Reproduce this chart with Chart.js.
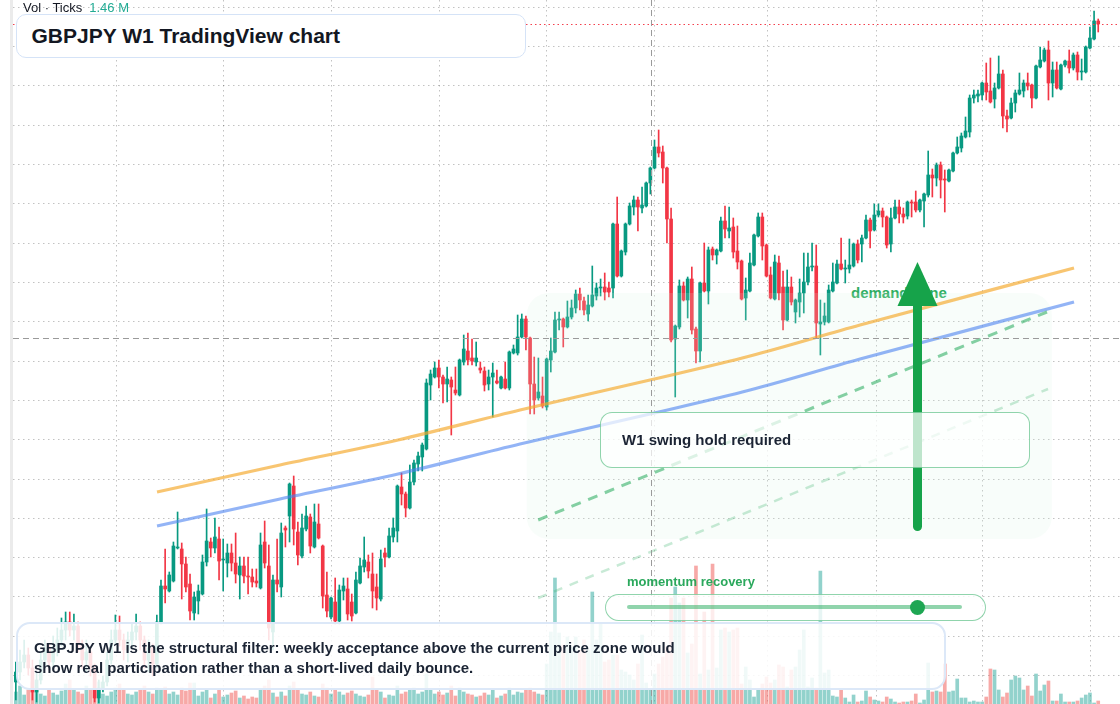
<!DOCTYPE html>
<html>
<head>
<meta charset="utf-8">
<script src="https://cdn.jsdelivr.net/npm/chart.js@4.4.1/dist/chart.umd.min.js"></script>
<style>
html,body{margin:0;padding:0;background:#fff;}
#wrap{position:relative;width:1120px;height:704px;overflow:hidden;font-family:"Liberation Sans",Arial,sans-serif;background:#fff;}
#c{position:absolute;left:0;top:0;z-index:1;display:block;}
.leftbar{position:absolute;left:10px;top:0;width:3px;height:704px;background:#ebebeb;z-index:2;}
.vol{position:absolute;left:23px;top:0;font-size:13px;line-height:16px;color:#131722;z-index:2;white-space:nowrap;}
.vol span{color:#22ab94;margin-left:7px;}
.title{position:absolute;left:16px;top:14px;width:510px;height:44px;box-sizing:border-box;border:1.5px solid #d5e3f7;border-radius:10px;background:#fff;z-index:2;font-weight:bold;font-size:21px;line-height:41px;color:#131722;padding-left:14.5px;white-space:nowrap;}
.note{position:absolute;left:16px;top:622px;width:930px;height:68px;box-sizing:border-box;border:2px solid #dce8f8;border-radius:14px;background:rgba(255,255,255,0.86);z-index:2;font-weight:bold;font-size:15px;line-height:20px;color:#1b2434;padding:14px 0 0 16px;white-space:nowrap;}
.hold{position:absolute;left:600px;top:412px;width:430px;height:56px;box-sizing:border-box;border:1px solid rgba(34,170,90,0.5);border-radius:12px;background:rgba(255,255,255,0.72);z-index:2;font-weight:bold;font-size:15px;line-height:54px;color:#1b2434;padding-left:21px;white-space:nowrap;}
.mlabel{position:absolute;left:627px;top:574px;font-weight:bold;font-size:13px;line-height:16px;color:#2aa85c;z-index:2;white-space:nowrap;}
.slider{position:absolute;left:605px;top:594px;width:381px;height:27px;box-sizing:border-box;border:1.5px solid rgba(34,170,90,0.5);border-radius:14px;background:rgba(255,255,255,0.78);z-index:2;}
.track{position:absolute;left:20.5px;top:10px;width:335px;height:4px;border-radius:2px;background:rgba(34,170,90,0.5);}
.knob{position:absolute;left:304px;top:4.5px;width:15px;height:15px;border-radius:50%;background:#1ea653;}
.demand{position:absolute;left:851px;top:284px;font-weight:bold;font-size:15px;line-height:18px;color:#2fae62;z-index:0;white-space:nowrap;}
</style>
</head>
<body>
<div id="wrap">
  <div class="demand">demand zone</div>
  <canvas id="c" width="1120" height="704"></canvas>
  <div class="leftbar"></div>
  <div class="vol">Vol · Ticks<span>1.46 M</span></div>
  <div class="title">GBPJPY W1 TradingView chart</div>
  <div class="note">GBPJPY W1 is the structural filter: weekly acceptance above the current price zone would<br>show real participation rather than a short-lived daily bounce.</div>
  <div class="hold">W1 swing hold required</div>
  <div class="mlabel">momentum recovery</div>
  <div class="slider"><div class="track"></div><div class="knob"></div></div>
</div>
<script>
// ---- Weekly GBPJPY candles (index = week number) ----
const open = [
151.8,152.8,153.8,154.5,153.2,150.8,152.0,154.0,155.2,153.8,
155.0,156.0,157.0,157.8,157.0,157.4,155.5,154.0,154.8,153.2,
150.2,151.2,151.8,154.0,156.0,157.0,156.0,155.0,156.0,156.8,
157.4,156.0,154.0,155.2,153.6,157.8,161.4,160.9,161.9,165.2,
165.1,163.6,161.6,158.7,159.9,160.6,163.8,165.8,165.2,166.1,
164.0,163.7,164.7,163.7,162.5,163.4,162.4,162.3,161.9,161.2,
165.8,163.4,156.8,162.0,161.3,167.2,168.4,171.4,166.8,164.4,
167.1,168.3,165.3,167.6,165.4,160.5,158.3,159.8,157.9,160.9,
161.1,159.8,158.7,161.7,163.3,163.8,162.6,161.3,160.1,164.7,
164.3,166.3,166.9,171.3,170.6,169.2,171.8,173.6,174.3,175.1,
181.5,182.3,183.2,182.3,181.6,182.0,181.0,180.5,183.8,184.9,
184.2,183.8,183.2,182.9,181.6,182.3,181.9,181.2,182.1,181.2,
184.7,184.7,186.3,188.1,186.2,181.6,180.2,180.4,179.3,184.0,
184.8,188.0,188.1,187.3,188.3,189.2,190.6,189.9,188.6,189.4,
190.4,191.2,191.3,191.2,191.2,197.6,192.4,194.8,197.6,199.3,
200.0,199.2,199.4,201.7,203.2,205.3,204.8,203.2,198.1,186.1,
187.3,191.4,190.0,192.1,187.1,184.9,191.7,190.9,195.1,194.5,
194.9,197.9,196.9,197.3,194.9,193.9,190.2,190.9,193.5,196.4,
198.3,195.5,192.5,190.1,193.7,191.3,188.0,191.3,188.8,189.8,
190.7,191.8,193.3,193.4,187.6,187.8,187.8,190.9,191.7,193.6,
193.1,193.1,193.4,195.6,195.6,196.2,198.0,197.0,198.5,198.9,
198.3,195.6,198.2,199.3,198.6,198.4,199.8,199.8,199.0,199.9,
200.5,202.5,202.2,203.5,202.1,201.9,202.9,204.7,205.2,206.3,
206.8,210.2,210.4,210.5,211.7,210.9,210.1,211.2,212.6,208.4,
208.2,209.7,210.6,210.9,211.7,211.5,210.2,213.3,213.9,215.0,
211.7,213.0,211.1,213.5,213.9,213.2,214.5,212.8,212.8,215.2,
216.1,217.9];
const close = [
152.8,153.8,154.5,153.2,150.8,152.0,154.0,155.2,153.8,155.0,
156.0,157.0,157.8,157.0,157.4,155.5,154.0,154.8,153.2,150.2,
151.2,151.8,154.0,156.0,157.0,156.0,155.0,156.0,156.8,157.4,
156.0,154.0,155.2,153.6,157.8,161.4,161.1,162.5,165.4,165.3,
163.6,161.3,158.9,160.3,160.9,163.8,165.9,165.2,166.3,163.9,
164.1,164.7,163.7,162.6,163.4,162.4,162.3,161.8,161.7,165.5,
163.7,157.2,162.0,161.6,166.7,167.0,171.6,167.1,164.5,167.2,
168.4,165.4,167.8,166.2,160.4,158.9,160.2,157.9,161.0,161.4,
158.6,158.4,162.0,163.4,164.0,162.9,160.9,160.2,164.1,164.3,
166.4,167.2,171.4,170.6,169.2,171.8,173.7,174.4,175.5,181.7,
182.6,183.2,182.3,181.6,182.1,181.3,180.7,184.0,185.1,184.0,
183.9,184.2,183.0,181.5,182.3,182.7,181.7,182.3,181.2,184.8,
185.1,186.3,188.1,186.3,181.6,180.0,180.8,179.4,184.1,184.9,
188.0,188.1,187.3,188.3,189.2,190.6,190.0,189.0,189.5,190.5,
191.2,191.3,190.8,190.8,197.6,192.4,194.9,197.6,199.4,200.0,
199.3,199.5,201.7,203.2,205.3,204.7,203.2,198.1,186.0,187.4,
191.4,190.0,192.1,187.0,184.9,191.7,190.9,195.0,194.5,195.0,
197.9,197.1,197.2,194.8,193.8,190.1,191.0,193.7,196.5,198.3,
195.4,192.4,190.2,193.8,190.7,188.0,191.3,189.8,190.0,190.7,
191.8,193.3,193.4,187.7,187.8,188.4,191.0,191.8,193.6,193.1,
193.2,193.5,195.6,194.0,196.2,198.0,196.9,198.5,198.9,198.3,
195.5,198.2,199.3,198.6,198.3,199.8,199.7,199.0,200.0,200.6,
202.5,202.2,203.5,202.0,202.0,203.0,204.7,205.3,206.4,206.9,
210.2,210.5,210.6,211.7,210.8,209.8,211.2,212.6,208.4,208.1,
209.7,210.7,211.0,211.7,211.4,210.2,213.4,214.0,215.0,211.7,
213.0,211.2,213.5,213.9,213.2,214.5,212.8,212.9,215.3,216.2,
217.9,217.6];
const high = [
153.8,155.0,156.0,155.2,154.0,152.8,154.8,156.0,155.6,156.4,
157.2,158.2,158.8,158.8,158.6,157.8,156.0,156.0,155.2,153.6,
152.0,152.4,154.8,157.0,158.5,158.4,156.6,156.8,157.6,158.6,
157.8,156.4,156.0,155.6,158.5,162.0,165.1,162.8,165.8,168.8,
165.7,164.3,162.6,160.8,161.5,164.5,169.1,166.2,168.2,167.3,
166.1,165.6,165.6,166.7,164.3,164.3,164.3,163.1,163.1,166.7,
167.9,165.5,162.5,166.1,167.7,167.4,171.7,172.4,167.8,168.6,
169.4,168.6,169.6,169.6,165.5,162.8,160.3,162.2,161.5,162.2,
162.2,160.6,162.8,164.2,166.3,164.5,164.7,162.6,165.0,165.2,
167.2,168.2,171.5,172.7,170.8,173.5,174.0,174.8,175.7,182.1,
183.0,183.8,184.0,182.5,183.3,182.3,183.3,184.1,186.5,186.7,
186.1,185.8,183.8,183.3,183.0,183.7,183.0,182.4,183.8,184.9,
185.5,188.5,188.6,188.4,186.3,184.3,184.2,182.3,184.2,186.2,
188.8,188.8,188.2,189.9,190.0,191.0,191.2,190.3,190.5,193.4,
191.7,192.1,192.7,191.8,197.7,200.3,195.0,197.7,199.7,200.4,
200.3,201.3,201.8,203.3,206.0,207.0,205.4,203.3,199.2,187.5,
192.0,191.8,192.3,193.3,187.3,191.8,195.7,195.3,195.3,195.1,
198.3,199.4,199.3,198.2,197.4,194.0,192.2,194.7,196.6,198.7,
198.7,195.6,193.3,194.5,194.4,192.9,193.0,192.3,190.1,192.1,
194.7,194.7,195.7,195.5,190.0,189.7,191.5,193.7,194.0,196.2,
194.0,196.1,195.7,196.0,196.5,198.5,198.2,199.6,199.6,199.2,
198.4,199.2,200.0,200.0,199.2,199.9,200.0,200.9,200.1,200.7,
204.9,203.1,203.7,203.8,203.0,203.1,204.8,206.3,206.7,208.3,
210.5,211.0,211.0,211.8,213.7,214.2,211.7,214.4,213.0,209.0,
210.2,211.0,212.7,212.0,212.7,211.6,213.5,215.3,215.2,215.9,
213.8,213.8,213.6,214.0,215.0,214.7,214.8,214.1,215.4,217.3,
218.9,218.1];
const low = [
150.0,152.0,153.2,152.5,150.0,149.8,151.6,153.4,153.0,153.2,
154.4,155.4,156.0,156.4,156.0,154.8,153.2,152.8,152.4,149.8,
149.7,150.8,151.4,153.6,155.5,155.4,154.0,153.8,155.2,156.0,
155.0,153.2,152.8,152.4,153.2,157.6,159.7,160.8,161.8,165.1,
160.1,160.8,158.0,158.0,158.6,160.5,163.4,164.3,164.7,162.0,
160.9,162.3,162.9,161.7,160.1,161.7,160.6,161.3,161.3,161.1,
163.2,156.0,155.0,160.8,160.3,165.3,165.8,165.5,163.5,164.2,
166.9,164.7,165.2,166.1,159.2,158.3,158.1,157.6,157.6,160.0,
158.0,157.9,158.6,161.6,162.8,162.2,159.2,159.0,159.9,163.3,
164.2,165.8,165.8,169.5,168.3,169.1,171.5,172.9,172.9,175.0,
180.0,182.2,181.2,179.7,179.8,176.5,180.5,180.4,183.5,183.5,
183.5,183.4,182.7,180.9,181.0,178.3,181.6,181.1,181.1,181.0,
184.6,184.5,186.2,185.0,178.6,178.6,180.0,179.2,179.0,182.8,
184.7,187.0,185.3,187.2,188.1,188.7,189.0,188.5,187.9,189.3,
190.0,190.4,190.0,190.3,190.2,192.3,192.3,194.5,197.5,198.5,
196.9,198.7,199.3,200.6,203.1,204.3,201.7,195.7,185.8,180.3,
187.1,189.9,188.2,186.6,183.7,183.8,190.8,189.6,194.0,193.6,
194.8,196.2,196.2,194.2,193.1,190.0,188.0,190.8,193.4,196.3,
194.0,192.3,190.1,190.0,190.0,187.0,187.9,189.5,187.7,188.3,
188.7,191.5,192.9,186.2,184.5,187.5,187.7,190.8,191.6,193.0,
191.7,192.7,193.3,193.7,193.8,196.1,195.2,196.9,198.3,197.3,
195.2,194.8,198.1,197.7,197.7,198.1,198.3,198.8,198.8,197.3,
200.3,200.3,201.4,200.2,198.8,201.8,202.8,204.6,204.8,206.2,
206.3,209.7,209.8,210.0,210.0,209.7,209.2,211.1,207.2,206.8,
208.1,208.8,210.5,210.3,211.0,209.2,210.1,213.2,213.8,210.0,
210.3,211.1,211.0,213.3,212.7,213.0,212.0,212.0,212.7,215.1,
216.0,216.8];
// weekly tick volume, millions
const volume = [
0.12,0.18,0.09,0.14,0.22,0.16,0.10,0.08,0.14,0.11,
0.09,0.13,0.20,0.24,0.15,0.12,0.10,0.18,0.14,0.26,
0.22,0.10,0.08,0.12,0.16,0.20,0.14,0.10,0.09,0.12,
0.15,0.18,0.12,0.10,0.16,0.14,0.17,0.10,0.12,0.09,
0.16,0.13,0.21,0.21,0.08,0.12,0.15,0.06,0.10,0.14,
0.07,0.09,0.11,0.13,0.06,0.08,0.05,0.07,0.06,0.14,
0.18,0.24,0.11,0.07,0.12,0.08,0.18,0.22,0.14,0.10,
0.09,0.12,0.08,0.07,0.20,0.16,0.10,0.14,0.12,0.09,
0.11,0.13,0.10,0.08,0.07,0.09,0.27,0.15,0.12,0.06,
0.09,0.08,0.18,0.10,0.12,0.14,0.16,0.10,0.12,0.30,
0.14,0.10,0.12,0.09,0.11,0.18,0.08,0.16,0.12,0.10,
0.09,0.07,0.08,0.11,0.09,0.14,0.06,0.08,0.10,0.16,
0.09,0.12,0.11,0.14,0.16,0.12,0.10,0.09,0.40,0.72,
1.26,0.71,0.59,0.67,0.57,0.67,0.54,0.64,0.54,1.12,
0.64,0.81,0.42,0.44,0.49,0.49,0.34,0.32,0.29,0.24,
0.40,0.69,0.21,0.14,0.30,0.40,0.47,0.57,1.06,1.17,
1.01,1.06,0.51,0.60,1.38,0.30,0.92,0.34,1.40,0.36,
0.74,0.76,0.72,0.74,0.76,0.20,0.37,0.24,0.07,0.15,
0.20,0.27,0.21,0.24,0.39,0.37,0.17,0.34,0.37,0.54,
0.74,0.17,0.26,0.16,1.33,0.31,0.34,0.08,0.07,0.14,
0.06,0.02,0.09,0.02,0.03,0.13,0.07,0.04,0.03,0.02,
0.07,0.05,0.02,0.01,0.02,0.02,0.03,0.10,0.01,0.04,
0.41,0.12,0.13,0.12,0.40,0.12,0.13,0.25,0.06,0.06,
0.02,0.03,0.02,0.02,0.07,0.35,0.34,0.14,0.07,0.11,
0.24,0.28,0.26,0.14,0.18,0.08,0.30,0.13,0.19,0.23,
0.03,0.03,0.10,0.02,0.02,0.02,0.03,0.06,0.09,0.11,
0.01,0.03];

// ---- trend channel and support lines (week, price) ----
const trendWeeks  = [34.04, 63.70, 92.15, 121.57, 152.92, 177.03, 203.56, 255.16];
const upperTrend  = [170.8, 173.5, 176.0, 179.0, 182.0, 184.4, 187.5, 193.2];
const lowerTrend  = [167.4, 170.1, 172.6, 175.6, 178.6, 181.0, 184.1, 189.8];
const supportWeeks = [125.95, 248.65];
const supportMain  = [168.0, 188.8];
const supportWeeks2 = [125.95, 248.9];
const supportOuter = [160.2, 181.1];

// ---- grid, zone, marker levels ----
const gridWeeks   = [24.32, 50.02, 76.16, 102.11, 128.01, 154.12, 181.2, 207.42, 233.14, 259.02];
const priceLevels = [219.26,215.33,211.40,207.47,203.54,199.61,195.68,191.75,187.82,183.89,179.96,176.03,172.10,168.17,164.24,160.31,156.38,152.45];
const zoneWeeks   = [123.2, 249.8];
const zonePrices  = [190.7, 166.1];
const arrowWeek   = 217.42;
const arrowPrices = [166.9, 193.8];
const crossWeek   = 153.2;
const crossPrice  = 186.2;

const weeks = open.map((_, i) => i);
const isUp = weeks.map(i => close[i] >= open[i]);
const candleColor = isUp.map(u => u ? '#089981' : '#f23645');
const volColor = isUp.map(u => u ? 'rgba(38,166,154,0.5)' : 'rgba(239,83,80,0.5)');
const lastPrice = close[close.length - 1];

const overlay = {
  id: 'overlay',
  afterDatasetDraw(chart, args) {
    if (args.index !== 2) return;
    const {ctx} = chart, xs = chart.scales.x, ys = chart.scales.y;
    const x0 = xs.getPixelForValue(zoneWeeks[0]), x1 = xs.getPixelForValue(zoneWeeks[1]);
    const y0 = ys.getPixelForValue(zonePrices[0]), y1 = ys.getPixelForValue(zonePrices[1]);
    ctx.save();
    ctx.fillStyle = 'rgba(215,245,225,0.17)';
    ctx.beginPath();
    ctx.roundRect(x0, y0, x1 - x0, y1 - y0, 22);
    ctx.fill();
    ctx.restore();
  },
  afterDatasetsDraw(chart) {
    const {ctx, chartArea} = chart, xs = chart.scales.x, ys = chart.scales.y;
    ctx.save();
    // last price line
    const py = Math.round(ys.getPixelForValue(lastPrice)) + 0.5;
    ctx.strokeStyle = 'rgba(242,54,69,0.95)';
    ctx.lineWidth = 1;
    ctx.setLineDash([1.5, 3]);
    ctx.beginPath(); ctx.moveTo(chartArea.left, py); ctx.lineTo(chartArea.right, py); ctx.stroke();
    // crosshair
    ctx.strokeStyle = '#9a9a9a';
    ctx.setLineDash([6, 4]);
    const cx = Math.round(xs.getPixelForValue(crossWeek)) + 0.5;
    const cy = Math.round(ys.getPixelForValue(crossPrice)) + 0.5;
    ctx.beginPath(); ctx.moveTo(cx, chartArea.top); ctx.lineTo(cx, chartArea.bottom); ctx.stroke();
    ctx.beginPath(); ctx.moveTo(chartArea.left, cy); ctx.lineTo(chartArea.right, cy); ctx.stroke();
    // arrow
    ctx.setLineDash([]);
    const ax = xs.getPixelForValue(arrowWeek);
    const ab = ys.getPixelForValue(arrowPrices[0]);
    const at = ys.getPixelForValue(arrowPrices[1]);
    ctx.strokeStyle = '#16a34a';
    ctx.fillStyle = '#16a34a';
    ctx.lineWidth = 9;
    ctx.lineCap = 'round';
    ctx.beginPath(); ctx.moveTo(ax, ab - 4.5); ctx.lineTo(ax, at + 40); ctx.stroke();
    ctx.beginPath(); ctx.moveTo(ax, at); ctx.lineTo(ax + 20, at + 44); ctx.lineTo(ax - 20, at + 44); ctx.closePath(); ctx.fill();
    ctx.restore();
  }
};

const gridStyle = {color: 'rgba(0,0,0,0.24)', lineWidth: 1, drawTicks: false, offset: false};

new Chart(document.getElementById('c'), {
  type: 'bar',
  data: {
    datasets: [
      {label: 'Volume', data: weeks.map(i => ({x: i, y: volume[i]})), yAxisID: 'yVol', backgroundColor: volColor, barThickness: 3, grouped: false, borderWidth: 0, order: 6},
      {label: 'Wicks', data: weeks.map(i => ({x: i, y: [low[i], high[i]]})), backgroundColor: candleColor, barThickness: 1, grouped: false, borderWidth: 0, order: 5},
      {label: 'Bodies', data: weeks.map(i => ({x: i, y: [open[i], close[i]]})), backgroundColor: candleColor, barThickness: 3, grouped: false, borderWidth: 0, minBarLength: 1, order: 4},
      {type: 'line', label: 'Upper trend', data: trendWeeks.map((w, k) => ({x: w, y: upperTrend[k]})), borderColor: 'rgba(245,170,45,0.68)', borderWidth: 3.2, pointRadius: 0, cubicInterpolationMode: 'monotone', fill: false, order: 3},
      {type: 'line', label: 'Lower trend', data: trendWeeks.map((w, k) => ({x: w, y: lowerTrend[k]})), borderColor: 'rgba(75,130,240,0.6)', borderWidth: 3.2, pointRadius: 0, cubicInterpolationMode: 'monotone', fill: false, order: 2},
      {type: 'line', label: 'Support', data: supportWeeks.map((w, k) => ({x: w, y: supportMain[k]})), borderColor: 'rgba(34,170,90,0.55)', borderWidth: 3, borderDash: [10, 8], pointRadius: 0, fill: false, order: 1},
      {type: 'line', label: 'Outer support', data: supportWeeks2.map((w, k) => ({x: w, y: supportOuter[k]})), borderColor: 'rgba(34,170,90,0.25)', borderWidth: 2.5, borderDash: [9, 8], pointRadius: 0, fill: false, order: 0}
    ]
  },
  options: {
    responsive: false,
    animation: false,
    devicePixelRatio: 1,
    events: [],
    layout: {padding: {left: 13, right: 0, top: 0, bottom: 0}},
    plugins: {legend: {display: false}, tooltip: {enabled: false}},
    scales: {
      x: {
        type: 'linear', min: -0.687, max: 266.25, offset: false,
        afterBuildTicks: s => { s.ticks = gridWeeks.map(v => ({value: v})); },
        afterFit: s => { s.height = 0; },
        ticks: {display: false}, grid: gridStyle, border: {display: false, dash: [1.5, 3.5]}
      },
      y: {
        type: 'linear', position: 'right', min: 149.6, max: 220,
        afterBuildTicks: s => { s.ticks = priceLevels.map(v => ({value: v})); },
        afterFit: s => { s.width = 0; },
        ticks: {display: false}, grid: gridStyle, border: {display: false, dash: [1.5, 3.5]}
      },
      yVol: {type: 'linear', display: false, min: 0, max: 7.04}
    }
  },
  plugins: [overlay]
});
</script>
</body>
</html>
